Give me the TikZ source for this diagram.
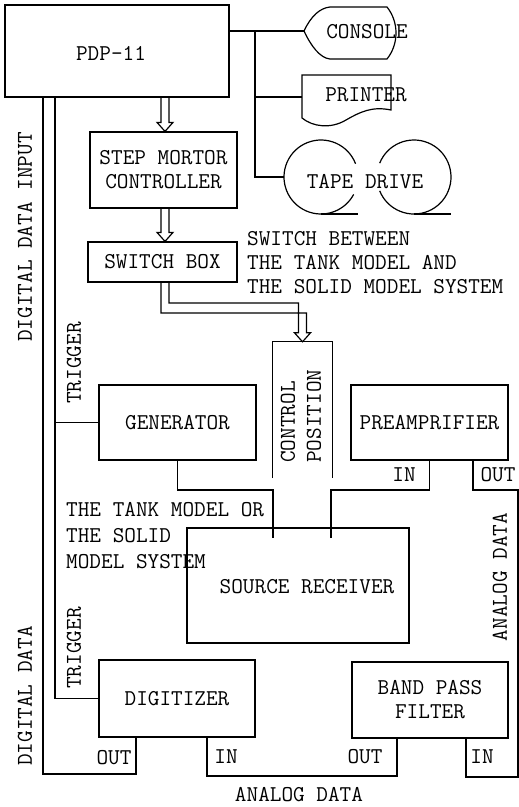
\documentclass[tikz,border=0pt]{standalone}
\usetikzlibrary{calc}
\begin{document}
\begin{tikzpicture}[x=1pt,y=-1pt,
  every node/.style={font=\ttfamily\fontsize{22.6}{24}\selectfont, inner sep=0pt},
  ln/.style={line width=1.2pt, line join=miter},
  box/.style={draw, line width=1.2pt, inner sep=0pt},
  vlab/.style={rotate=90}]
\useasboundingbox (0,0) rectangle (519,807);

% boxes
\node[box, minimum width=224pt, minimum height=92pt] (pdp) at (117,51) {};
\node (pdplabel) at (111,53) {PDP-11};
\node[box, minimum width=147pt, minimum height=76pt, align=center] (smc) at (163.5,170) {STEP MORTOR\\CONTROLLER};
\node[box, minimum width=149pt, minimum height=40pt] (swb) at (162.5,262) {SWITCH BOX};
\node[minimum width=59pt, minimum height=136pt] (cp) at (302.5,410) {};
\draw[ln] (cp.south west) -- (cp.north west) -- (cp.north east) -- (cp.south east);
\node[vlab, anchor=west, align=left, font=\ttfamily\fontsize{22.6}{26}\selectfont] (cplabel) at (301,463) {CONTROL\\POSITION};
\node[box, minimum width=157pt, minimum height=75pt] (gen) at (177.5,422.5) {GENERATOR};
\node[box, minimum width=157pt, minimum height=75pt] (pre) at (429.5,422.5) {PREAMPRIFIER};
\node[box, minimum width=222pt, minimum height=115pt] (src) at (298,585.5) {};
\node (srclabel) at (307,587) {SOURCE RECEIVER};
\node[box, minimum width=156pt, minimum height=77pt] (dig) at (177,698.5) {DIGITIZER};
\node[box, minimum width=156pt, minimum height=76pt, align=center] (bpf) at (430,700) {BAND PASS\\FILTER};

% peripherals
\draw[ln] (304,31) .. controls (311,16) and (320,8) .. (330,7) -- (387,7)
  .. controls (399,22) and (399,44) .. (387,59) -- (330,59)
  .. controls (320,58) and (311,46) .. (304,31) -- cycle;
\node (console) at (367,32) {CONSOLE};
\coordinate (consL) at (304,31);
\draw[ln] (302,75) -- (391,75) -- (391,110)
  .. controls (372,106) and (360,112) .. (346,120)
  .. controls (331,129) and (313,127) .. (302,118) -- cycle;
\node (printer) at (366,95) {PRINTER};
\coordinate (prnL) at (302,97);
\coordinate (tapeC1) at (321,177);
\coordinate (tapeC2) at (414,177);
\coordinate (tapeL) at (284,177);
\draw[ln] (tapeC1) ++(21:37pt) arc[start angle=21, end angle=332, radius=37pt];
\draw[ln] (tapeC1) ++(0,37) -- ++(37,0);
\draw[ln] (tapeC2) ++(158:37pt) arc[start angle=158, end angle=-158, radius=37pt];
\draw[ln] (tapeC2) ++(0,37) -- ++(37,0);
\node (tape) at (365,182) {TAPE DRIVE};

% PDP-11 to peripherals
\coordinate (busP) at (255,31);
\draw[ln] (pdp.east |- busP) -- (consL);
\draw[ln] (busP) -- (busP |- tapeL) -- (tapeL);
\draw[ln] (busP |- prnL) -- (prnL);

% hollow arrows
\coordinate (ax) at (165,0);
\coordinate (a1) at (pdp.south -| ax);
\coordinate (a2) at (smc.north -| ax);
\coordinate (a3) at (smc.south -| ax);
\coordinate (a4) at (swb.north -| ax);
\coordinate (a5) at (swb.south -| ax);
\coordinate (bend) at (0,308);
\draw[ln] let \p1=(a1), \p2=(a2) in
  (\x1-4pt,\y1) -- (\x1-4pt,\y2+9pt) -- (\x1-8pt,\y2+9pt) -- (\x2,\y2)
  -- (\x1+8pt,\y2+9pt) -- (\x1+4pt,\y2+9pt) -- (\x1+4pt,\y1);
\draw[ln] let \p1=(a3), \p2=(a4) in
  (\x1-4pt,\y1) -- (\x1-4pt,\y2+9pt) -- (\x1-8pt,\y2+9pt) -- (\x2,\y2)
  -- (\x1+8pt,\y2+9pt) -- (\x1+4pt,\y2+9pt) -- (\x1+4pt,\y1);
\draw[ln] let \p1=(a5), \p2=(cp.north), \p3=(bend) in
  (\x1-4pt,\y1) -- (\x1-4pt,\y3-5pt) -- (\x2+4pt,\y3-5pt) -- (\x2+4pt,\y2+9pt)
  -- (\x2+8pt,\y2+9pt) -- (\x2,\y2) -- (\x2-8pt,\y2+9pt) -- (\x2-4pt,\y2+9pt)
  -- (\x2-4pt,\y3+5pt) -- (\x1+4pt,\y3+5pt) -- (\x1+4pt,\y1);

% digital data bus
\coordinate (busA) at (43,774);
\coordinate (doA) at (136,774);
\draw[ln] (pdp.south -| busA) -- (busA) -- (doA) -- (dig.south -| doA);
% trigger
\coordinate (trg) at (55,0);
\draw[ln] (pdp.south -| trg) -- (trg |- dig.west) -- (dig.west);
\draw[ln] (trg |- gen.west) -- (gen.west);

% generator to source receiver
\coordinate (g1) at (273,490);
\coordinate (g2) at (273,538);
\draw[ln] (gen.south) -- (gen.south |- g1) -- (g1) -- (g2);
% source receiver to preamp
\coordinate (p1) at (331,490);
\coordinate (p2) at (331,538);
\draw[ln] (p2) -- (p1) -- (p1 -| pre.south) -- (pre.south);
% preamp out to band pass in
\coordinate (po) at (473,490);
\coordinate (re1) at (518,490);
\coordinate (re2) at (518,777);
\coordinate (bi) at (466,777);
\draw[ln] (pre.south -| po) -- (po) -- (re1) -- (re2) -- (bi) -- (bpf.south -| bi);
% band pass out to digitizer in
\coordinate (bo) at (397,776);
\coordinate (di) at (207,776);
\draw[ln] (bpf.south -| bo) -- (bo) -- (di) -- (dig.south -| di);

% labels
\node[vlab] (ddi) at (25,237) {DIGITAL DATA INPUT};
\node[vlab] (dd) at (25,696) {DIGITAL DATA};
\node[vlab] (trg1) at (74,363) {TRIGGER};
\node[vlab] (trg2) at (74,648) {TRIGGER};
\node[anchor=west, align=left] (swnote) at (247,263) {SWITCH BETWEEN\\THE TANK MODEL AND\\THE SOLID MODEL SYSTEM};
\node[anchor=west, align=left, font=\ttfamily\fontsize{22.6}{26}\selectfont] (tanknote) at (66,536) {THE TANK MODEL OR\\THE SOLID\\MODEL SYSTEM};
\node[vlab] (adr) at (500,577) {ANALOG DATA};
\node (adb) at (299,795) {ANALOG DATA};
\node (prein) at (404,475) {IN};
\node (preout) at (498,475) {OUT};
\node (digout) at (114,758) {OUT};
\node (digin) at (226,757) {IN};
\node (bpfout) at (365,757) {OUT};
\node (bpfin) at (482,757) {IN};
\end{tikzpicture}
\end{document}
